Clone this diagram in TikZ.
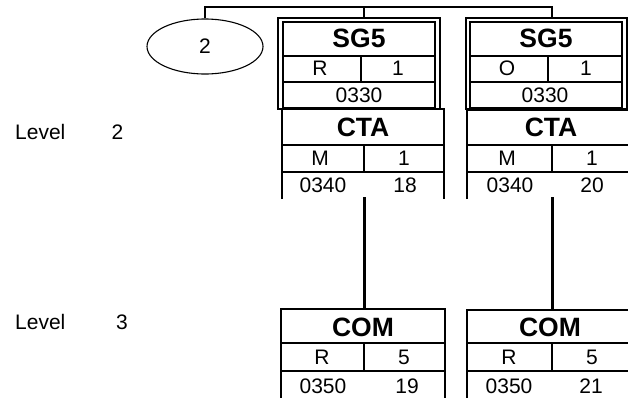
\documentclass[tikz,border=0pt]{standalone}
\usepackage{fontspec}
\setmainfont{Liberation Sans}
\usetikzlibrary{shapes.geometric}
\begin{document}
\begin{tikzpicture}[x=1pt,y=-1pt,line join=miter,
  boxline/.style={line width=2.2pt},
  dblline/.style={line width=1.7pt},
  conn/.style={line width=3pt},
  bus/.style={line width=2.2pt},
  txt/.style={inner sep=0pt,anchor=base,font=\fontsize{21}{25}\selectfont},
  ttl/.style={inner sep=0pt,anchor=base,font=\fontsize{26.5}{31}\selectfont\bfseries},
  lvl/.style={inner sep=0pt,anchor=base west,font=\fontsize{21}{25}\selectfont}]
\useasboundingbox (0,0) rectangle (628,397);
\clip (0,0) rectangle (628,397);

% level labels
\node[lvl] (lv2) at (15,139) {Level};
\node[txt] (lv2n) at (117.5,139) {2};
\node[lvl] (lv3) at (15,329) {Level};
\node[txt] (lv3n) at (122,329) {3};

% ellipse
\node[draw,ellipse,line width=1.1pt,minimum width=116pt,minimum height=55pt,inner sep=0pt,
      font=\fontsize{21}{25}\selectfont] (ell) at (205,46.5) {2};

% ---------- SG5 box A ----------
\draw[dblline] (278,18) rectangle (440,109);
\draw[dblline] (283,22) rectangle (435,108);
\draw[boxline] (283,56) -- (435,56);
\draw[boxline] (283,82) -- (435,82);
\draw[boxline] (361,56) -- (361,82);
\node[ttl] (sgA) at (359,47) {SG5};
\node[txt] (sgAs) at (320,75) {R};
\node[txt] (sgAr) at (398,75) {1};
\node[txt] (sgAn) at (359,102) {0330};
\coordinate (sgAtop) at (364,18);

% ---------- SG5 box B ----------
\draw[dblline] (466,18) rectangle (627,109);
\draw[dblline] (470,22) rectangle (622,108);
\draw[boxline] (470,56) -- (622,56);
\draw[boxline] (470,82) -- (622,82);
\draw[boxline] (548,56) -- (548,82);
\node[ttl] (sgB) at (546,47) {SG5};
\node[txt] (sgBs) at (507,75) {O};
\node[txt] (sgBr) at (586,75) {1};
\node[txt] (sgBn) at (545,102) {0330};
\coordinate (sgBtop) at (552,18);

% ---------- CTA box A ----------
\draw[boxline] (282,199) -- (282,109) -- (444,109) -- (444,199);
\draw[boxline] (282,145) -- (444,145);
\draw[boxline] (282,172) -- (444,172);
\draw[boxline] (364,145) -- (364,172);
\node[ttl] (ctaA) at (363,136) {CTA};
\node[txt] (ctaAs) at (320,165) {M};
\node[txt] (ctaAr) at (404,165) {1};
\node[txt] (ctaAn) at (323,192) {0340};
\node[txt] (ctaAp) at (405,192) {18};
\coordinate (ctaAbot) at (364,197);

% ---------- CTA box B ----------
\draw[boxline] (467,199) -- (467,110) -- (632,110);
\draw[boxline] (467,145) -- (632,145);
\draw[boxline] (467,172) -- (632,172);
\draw[boxline] (552,145) -- (552,172);
\node[ttl] (ctaB) at (551,136) {CTA};
\node[txt] (ctaBs) at (507,165) {M};
\node[txt] (ctaBr) at (592,165) {1};
\node[txt] (ctaBn) at (510,192) {0340};
\node[txt] (ctaBp) at (592,192) {20};
\coordinate (ctaBbot) at (552,197);

% ---------- COM box A ----------
\draw[boxline] (281,400) -- (281,309) -- (445,309) -- (445,400);
\draw[boxline] (281,343) -- (445,343);
\draw[boxline] (281,371) -- (445,371);
\draw[boxline] (364,343) -- (364,371);
\node[ttl] (comA) at (363,336) {COM};
\node[txt] (comAs) at (322,364) {R};
\node[txt] (comAr) at (404,364) {5};
\node[txt] (comAn) at (323,393) {0350};
\node[txt] (comAp) at (407,393) {19};
\coordinate (comAtop) at (364,309);

% ---------- COM box B ----------
\draw[boxline] (467,400) -- (467,310) -- (632,310);
\draw[boxline] (467,343) -- (632,343);
\draw[boxline] (467,371) -- (632,371);
\draw[boxline] (552,343) -- (552,371);
\node[ttl] (comB) at (550,336) {COM};
\node[txt] (comBs) at (509,364) {R};
\node[txt] (comBr) at (592,364) {5};
\node[txt] (comBn) at (509,393) {0350};
\node[txt] (comBp) at (591,393) {21};
\coordinate (comBtop) at (552,310);

% ---------- connectors ----------
\draw[bus] (ell.north) -- (ell.north |- 0,7) -- (sgBtop |- 0,7) -- (sgBtop);
\draw[bus] (sgAtop |- 0,7) -- (sgAtop);
\draw[conn] (ctaAbot) -- (comAtop);
\draw[conn] (ctaBbot) -- (comBtop);
\end{tikzpicture}
\end{document}
